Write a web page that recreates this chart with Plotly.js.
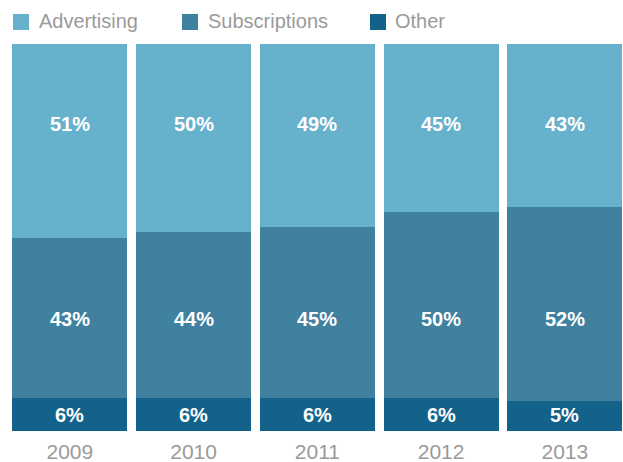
<!DOCTYPE html>
<html>
<head>
<meta charset="utf-8">
<script src="https://cdn.plot.ly/plotly-3.0.1.min.js"></script>
<style>html,body{margin:0;padding:0;background:#fff;}#chart{width:623px;height:462px;}</style>
</head>
<body>
<div id="chart"></div>
<script>
// Data
const years = ['2009', '2010', '2011', '2012', '2013'];
const seriesNames = ['Advertising', 'Subscriptions', 'Other'];
// Segment heights as drawn (share of bar)
const advertising = [50.1, 48.8, 47.3, 43.5, 42.4];
const subscriptions = [41.3, 42.8, 44.1, 47.9, 50.0];
const other = [8.6, 8.6, 8.6, 8.6, 7.8];
// Printed labels
const advertisingLabels = ['51%', '50%', '49%', '45%', '43%'];
const subscriptionsLabels = ['43%', '44%', '45%', '50%', '52%'];
const otherLabels = ['6%', '6%', '6%', '6%', '5%'];

const colors = {Advertising: '#66b1cc', Subscriptions: '#4081a0', Other: '#12628a'};
const W = 623, H = 462, ML = 8, MR = 0, MT = 44, MB = 31;
const PW = W - ML - MR, PH = H - MT - MB;
const px2x = p => (p - ML) / PW;
const py2y = p => (H - MB - p) / PH;
const font = 'Liberation Sans, Arial, sans-serif';

function barTrace(name, vals) {
  return {type: 'bar', name: name, x: years, y: vals,
    marker: {color: colors[name], line: {width: 0}}, hoverinfo: 'none', showlegend: false};
}
const traces = [barTrace('Other', other), barTrace('Subscriptions', subscriptions), barTrace('Advertising', advertising)];

const annotations = [];
const labelRows = [[advertisingLabels, 124], [subscriptionsLabels, 319], [otherLabels, 415]];
labelRows.forEach(([labels, py]) => {
  labels.forEach((t, i) => annotations.push({
    x: i, xref: 'x', y: py2y(py), yref: 'paper', text: '<b>' + t + '</b>',
    showarrow: false, xanchor: 'center', yanchor: 'middle',
    font: {family: font, size: 20, color: '#ffffff'}
  }));
});

// Legend
const shapes = [];
const legendSquares = [13, 182, 370];
const legendTexts = [37, 206, 393];
seriesNames.forEach((n, i) => {
  shapes.push({type: 'rect', xref: 'paper', yref: 'paper',
    x0: px2x(legendSquares[i]), x1: px2x(legendSquares[i] + 16),
    y0: py2y(30), y1: py2y(14), fillcolor: colors[n], line: {width: 0}});
  annotations.push({x: px2x(legendTexts[i]), xref: 'paper', y: py2y(21), yref: 'paper',
    text: n, showarrow: false, xanchor: 'left', yanchor: 'middle',
    font: {family: font, size: 20, color: '#9a9a9a'}});
});

const layout = {
  width: W, height: H,
  margin: {l: ML, r: MR, t: MT, b: MB, pad: 0},
  paper_bgcolor: '#ffffff', plot_bgcolor: '#ffffff',
  barmode: 'stack', bargap: 0.07, showlegend: false,
  xaxis: {type: 'category', range: [-0.5, 4.47], showgrid: false, zeroline: false, showline: false,
    ticks: '', ticklabelstandoff: 6, tickfont: {family: font, size: 21, color: '#9a9a9a'}, fixedrange: true},
  yaxis: {range: [0, 100], showgrid: false, zeroline: false, showline: false, showticklabels: false, fixedrange: true},
  shapes: shapes, annotations: annotations
};
Plotly.newPlot('chart', traces, layout, {displayModeBar: false, staticPlot: true});
</script>
</body>
</html>
